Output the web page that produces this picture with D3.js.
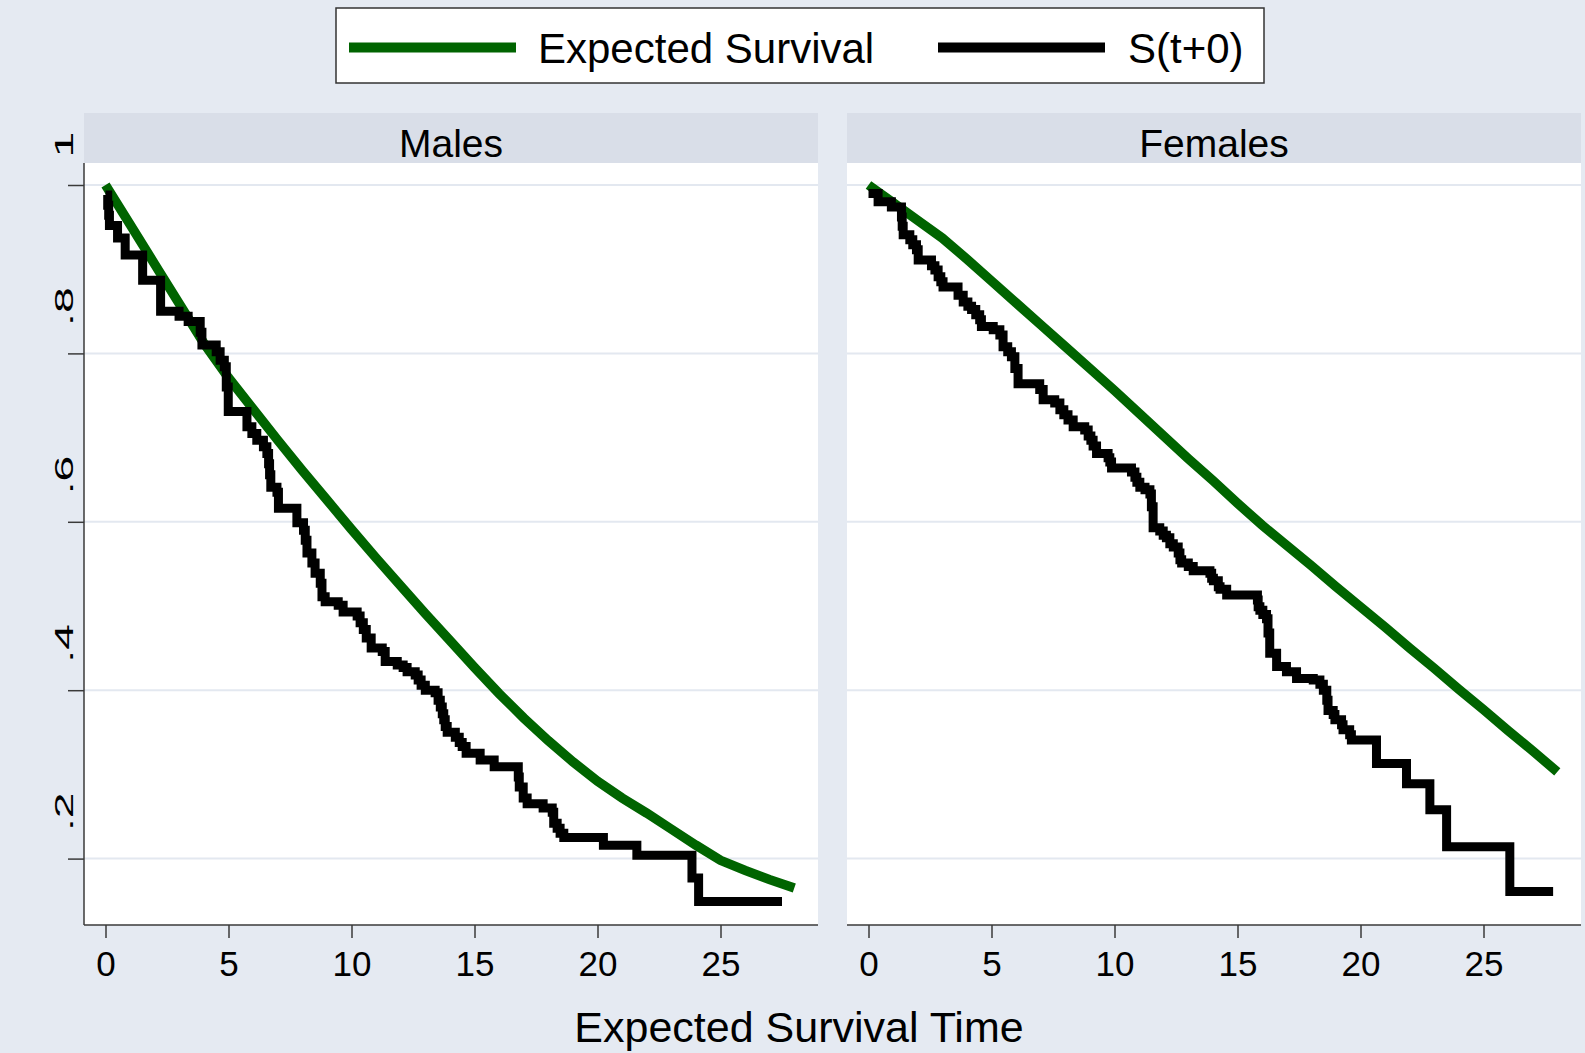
<!DOCTYPE html>
<html>
<head>
<meta charset="utf-8">
<script src="https://cdn.jsdelivr.net/npm/d3@7"></script>
<style>
    body { margin: 0; background: #e5eaf2; }
    svg { display: block; font-family: 'Liberation Sans', Arial, sans-serif; }
</style>
</head>
<body>
<div id="chart"></div>
<script>
// Expected survival, read at whole years
const expTime = [0, 1, 2, 3, 4, 5, 6, 7, 8, 9, 10, 11, 12, 13, 14, 15, 16, 17, 18, 19, 20, 21, 22, 23, 24, 25, 26, 27, 28]
const maleExpSurv = [1.000, 0.953, 0.906, 0.859, 0.812, 0.771, 0.734, 0.697, 0.661, 0.626, 0.591, 0.557, 0.524, 0.491, 0.459,
    0.427, 0.396, 0.367, 0.340, 0.315, 0.292, 0.272, 0.254, 0.235, 0.216, 0.198, 0.186, 0.175, 0.165]
const femaleExpSurv = [1.000, 0.979, 0.958, 0.937, 0.912, 0.886, 0.860, 0.834, 0.808, 0.782, 0.756, 0.729, 0.702, 0.675, 0.649,
    0.622, 0.596, 0.572, 0.548, 0.523, 0.499, 0.475, 0.450, 0.426, 0.401, 0.377, 0.352, 0.328, 0.303]

// S(t+0) step curves: time a level starts, and the level
const maleKmTime = [0, 0.09, 0.13, 0.16, 0.49, 0.80, 1.51, 2.24, 2.99, 3.36, 3.85, 3.92, 4.50, 4.66, 4.83, 4.91, 4.99, 5.75, 5.95, 6.15,
    6.42, 6.56, 6.63, 6.67, 6.72, 6.97, 7.03, 7.78, 8.05, 8.12, 8.19, 8.39, 8.52, 8.73, 8.80, 8.93, 9.46, 9.66, 10.23, 10.35,
    10.48, 10.60, 10.80, 11.25, 11.37, 11.86, 12.10, 12.26, 12.59, 12.71, 12.83, 13.00, 13.40, 13.52, 13.61, 13.69, 13.75, 13.81, 13.89, 14.22,
    14.38, 14.50, 14.66, 15.23, 15.80, 16.78, 16.82, 16.98, 17.14, 17.79, 18.16, 18.22, 18.36, 18.48, 18.63, 20.24, 21.60, 23.84, 24.11, 27.50]
const maleKmSurv = [0.988, 0.976, 0.964, 0.952, 0.937, 0.917, 0.887, 0.850, 0.844, 0.838, 0.825, 0.810, 0.802, 0.792, 0.784, 0.760, 0.731, 0.713, 0.705, 0.697,
    0.689, 0.681, 0.669, 0.656, 0.641, 0.635, 0.616, 0.599, 0.590, 0.578, 0.563, 0.551, 0.539, 0.527, 0.511, 0.505, 0.501, 0.493, 0.488, 0.480,
    0.472, 0.462, 0.450, 0.446, 0.434, 0.430, 0.427, 0.422, 0.418, 0.412, 0.406, 0.400, 0.397, 0.388, 0.380, 0.372, 0.365, 0.357, 0.350, 0.344,
    0.338, 0.333, 0.325, 0.317, 0.309, 0.297, 0.285, 0.272, 0.265, 0.260, 0.255, 0.242, 0.236, 0.230, 0.225, 0.216, 0.204, 0.177, 0.149, 0.149]

const femaleKmTime = [0, 0.39, 0.93, 1.34, 1.37, 1.41, 1.68, 1.80, 1.95, 2.02, 2.56, 2.70, 2.83, 2.94, 3.03, 3.64, 3.85, 4.04, 4.19, 4.36,
    4.52, 4.59, 5.07, 5.34, 5.47, 5.66, 5.81, 5.95, 6.08, 6.96, 7.10, 7.57, 7.78, 7.94, 8.11, 8.32, 8.79, 8.93, 9.04, 9.13,
    9.27, 9.74, 9.81, 9.88, 10.69, 10.83, 10.91, 11.03, 11.24, 11.44, 11.50, 11.57, 11.84, 11.98, 12.11, 12.25, 12.39, 12.59, 12.66, 12.73,
    13.00, 13.20, 13.88, 13.95, 14.02, 14.22, 14.29, 14.56, 15.81, 15.84, 15.91, 16.03, 16.18, 16.24, 16.31, 16.59, 16.99, 17.40, 18.08, 18.35,
    18.49, 18.63, 18.68, 18.89, 18.96, 19.23, 19.29, 19.56, 19.63, 20.65, 21.87, 22.82, 23.50, 26.07, 27.83]
const femaleKmSurv = [0.990, 0.980, 0.974, 0.962, 0.951, 0.941, 0.935, 0.929, 0.923, 0.911, 0.904, 0.899, 0.891, 0.885, 0.879, 0.869, 0.861, 0.856, 0.852, 0.846,
    0.840, 0.832, 0.828, 0.822, 0.808, 0.802, 0.796, 0.782, 0.764, 0.757, 0.745, 0.741, 0.733, 0.727, 0.721, 0.713, 0.709, 0.702, 0.697, 0.690,
    0.681, 0.676, 0.671, 0.664, 0.659, 0.653, 0.647, 0.641, 0.638, 0.633, 0.618, 0.593, 0.589, 0.584, 0.581, 0.574, 0.570, 0.563, 0.555, 0.551,
    0.547, 0.542, 0.539, 0.533, 0.530, 0.523, 0.520, 0.513, 0.507, 0.499, 0.495, 0.490, 0.485, 0.468, 0.444, 0.428, 0.422, 0.414, 0.412, 0.407,
    0.400, 0.388, 0.376, 0.371, 0.365, 0.359, 0.353, 0.347, 0.341, 0.313, 0.289, 0.258, 0.214, 0.161, 0.161]

const xTicks = [0, 5, 10, 15, 20, 25]
const yTicks = [0.2, 0.4, 0.6, 0.8, 1]
const yTickLabels = ['.2', '.4', '.6', '.8', '1']
const panelNames = ['Males', 'Females']
const seriesNames = ['Expected Survival', 'S(t+0)']

const width = 1585
const height = 1053
const bg = '#e5eaf2'
const stripFill = '#d9dee8'
const gridColor = '#e3e8f0'
const green = '#006400'
const axisColor = '#3a3a3a'

const svg = d3.select('#chart')
    .append('svg')
    .attr('width', width)
    .attr('height', height)

svg.append('rect')
    .attr('width', width)
    .attr('height', height)
    .attr('fill', bg)

// Plot region per panel (Stata by-graph)
const plotW = 734
const stripTop = 113
const plotTop = 163
const plotBottom = 925

const y = d3.scaleLinear().domain([0.2, 1]).range([858.6, 185])

const panels = [
    { name: panelNames[0], left: 84, kmT: maleKmTime, kmS: maleKmSurv, exp: maleExpSurv },
    { name: panelNames[1], left: 847, kmT: femaleKmTime, kmS: femaleKmSurv, exp: femaleExpSurv }
]

panels.forEach((p, i) => {
    const x = d3.scaleLinear().domain([0, 25]).range([p.left + 21.5, p.left + 636.5])
    const g = svg.append('g')

    g.append('rect')
        .attr('x', p.left).attr('y', stripTop)
        .attr('width', plotW).attr('height', plotTop - stripTop)
        .attr('fill', stripFill)
    g.append('text')
        .attr('x', p.left + plotW / 2).attr('y', 157)
        .attr('text-anchor', 'middle')
        .attr('font-size', 39)
        .text(p.name)

    g.append('rect')
        .attr('x', p.left).attr('y', plotTop)
        .attr('width', plotW).attr('height', plotBottom - plotTop)
        .attr('fill', '#fff')

    g.selectAll('line.grid')
        .data(yTicks)
        .join('line')
        .attr('class', 'grid')
        .attr('x1', p.left).attr('x2', p.left + plotW)
        .attr('y1', d => y(d)).attr('y2', d => y(d))
        .attr('stroke', gridColor)
        .attr('stroke-width', 2)

    // x axis
    const xAxis = d3.axisBottom(x).tickValues(xTicks).tickSize(13).tickPadding(13.5)
    const xg = g.append('g')
        .attr('transform', `translate(0,${plotBottom})`)
        .call(xAxis)
    xg.select('.domain').remove()
    xg.selectAll('line').attr('stroke', axisColor).attr('stroke-width', 1.5)
    xg.selectAll('text').attr('font-size', 35).attr('font-family', null).attr('fill', '#000')
    g.append('line')
        .attr('x1', p.left).attr('x2', p.left + plotW)
        .attr('y1', plotBottom).attr('y2', plotBottom)
        .attr('stroke', axisColor).attr('stroke-width', 1.5)

    // y axis only on the first panel
    if (i === 0) {
        const yAxis = d3.axisLeft(y).tickValues(yTicks).tickSize(16)
            .tickFormat((d, k) => yTickLabels[k])
        const yg = g.append('g')
            .attr('transform', `translate(${p.left},0)`)
            .call(yAxis)
        yg.select('.domain').remove()
        yg.selectAll('line').attr('stroke', axisColor).attr('stroke-width', 1.5)
        // Stata draws these rotated and stretched along the text
        yg.selectAll('text')
            .attr('x', null).attr('dy', null)
            .attr('text-anchor', 'start')
            .attr('font-size', 25).attr('font-family', null).attr('fill', '#000')
            .attr('transform', 'translate(-11,-28) rotate(-90) scale(1.85,1)')
        g.append('line')
            .attr('x1', p.left).attr('x2', p.left)
            .attr('y1', plotTop).attr('y2', plotBottom)
            .attr('stroke', axisColor).attr('stroke-width', 1.5)
    }

    const expLine = d3.line()
        .x((d, k) => x(expTime[k]))
        .y(d => y(d))
    g.append('path')
        .attr('d', expLine(p.exp))
        .attr('fill', 'none')
        .attr('stroke', green)
        .attr('stroke-width', 9.5)

    const kmLine = d3.line()
        .x((d, k) => x(p.kmT[k]))
        .y(d => y(d))
        .curve(d3.curveStepAfter)
    g.append('path')
        .attr('d', kmLine(p.kmS))
        .attr('fill', 'none')
        .attr('stroke', '#000')
        .attr('stroke-width', 9)
        .attr('stroke-linejoin', 'miter')
})

// Legend
const legend = svg.append('g')
legend.append('rect')
    .attr('x', 336).attr('y', 8)
    .attr('width', 928).attr('height', 75)
    .attr('fill', '#fff')
    .attr('stroke', '#333')
    .attr('stroke-width', 1.5)
const legendItems = [
    { name: seriesNames[0], color: green, x0: 349, tx: 538 },
    { name: seriesNames[1], color: '#000', x0: 938, tx: 1128 }
]
legendItems.forEach(d => {
    legend.append('line')
        .attr('x1', d.x0).attr('x2', d.x0 + 167)
        .attr('y1', 47.5).attr('y2', 47.5)
        .attr('stroke', d.color)
        .attr('stroke-width', 10)
    legend.append('text')
        .attr('x', d.tx).attr('y', 63)
        .attr('font-size', 42)
        .text(d.name)
})

svg.append('text')
    .attr('x', 799).attr('y', 1042)
    .attr('text-anchor', 'middle')
    .attr('font-size', 43)
    .text('Expected Survival Time')
</script>
</body>
</html>
